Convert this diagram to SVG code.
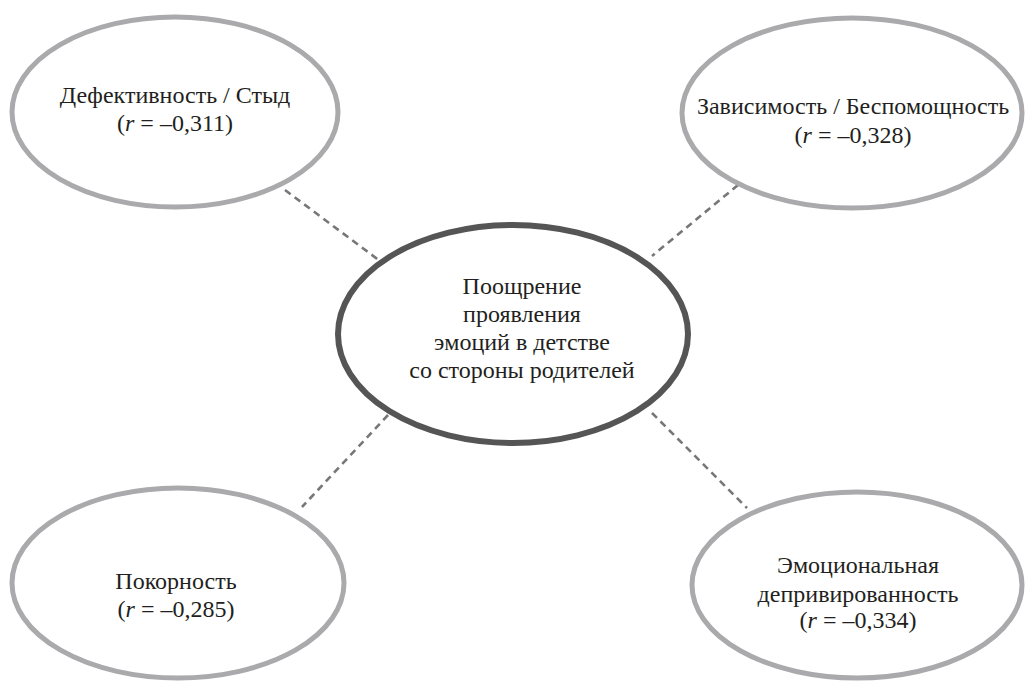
<svg xmlns="http://www.w3.org/2000/svg" width="1026" height="681" viewBox="0 0 1026 681">
<style>
.outer{fill:#fff;stroke:#aaaaad;stroke-width:5}
.center{fill:#fff;stroke:#555;stroke-width:6}
.lbl{font-family:"Liberation Serif","DejaVu Serif",serif;font-size:24px;fill:#231f20;text-anchor:middle}
.conn{stroke:#777;stroke-width:2.6;stroke-dasharray:7 5;fill:none}
</style>
<rect width="1026" height="681" fill="#fff"/>
<g id="connectors">
<line class="conn" x1="285" y1="190" x2="380" y2="261"/>
<line class="conn" x1="738" y1="185" x2="652" y2="256"/>
<line class="conn" x1="388" y1="415" x2="302" y2="507"/>
<line class="conn" x1="652" y1="413" x2="747" y2="508"/>
</g>
<g id="node-center">
<ellipse class="center" cx="513" cy="334" rx="175" ry="109"/>
<text class="lbl" x="522" y="294">Поощрение</text>
<text class="lbl" x="522" y="322">проявления</text>
<text class="lbl" x="522" y="350">эмоций в детстве</text>
<text class="lbl" x="522" y="378">со стороны родителей</text>
</g>
<g id="node-defect">
<ellipse class="outer" cx="175" cy="112" rx="163" ry="95"/>
<text class="lbl" x="175" y="103">Дефективность / Стыд</text>
<text class="lbl" x="175" y="131">(<tspan font-style="italic">r</tspan> = –0,311)</text>
</g>
<g id="node-depend">
<ellipse class="outer" cx="852" cy="113" rx="170" ry="95"/>
<text class="lbl" x="853" y="114">Зависимость / Беспомощность</text>
<text class="lbl" x="853" y="143">(<tspan font-style="italic">r</tspan> = –0,328)</text>
</g>
<g id="node-submit">
<ellipse class="outer" cx="178" cy="583" rx="166" ry="95"/>
<text class="lbl" x="176" y="589">Покорность</text>
<text class="lbl" x="176" y="617">(<tspan font-style="italic">r</tspan> = –0,285)</text>
</g>
<g id="node-emot">
<ellipse class="outer" cx="857" cy="585" rx="165" ry="93"/>
<text class="lbl" x="858" y="573">Эмоциональная</text>
<text class="lbl" x="858" y="602">депривированность</text>
<text class="lbl" x="858" y="628">(<tspan font-style="italic">r</tspan> = –0,334)</text>
</g>
</svg>
